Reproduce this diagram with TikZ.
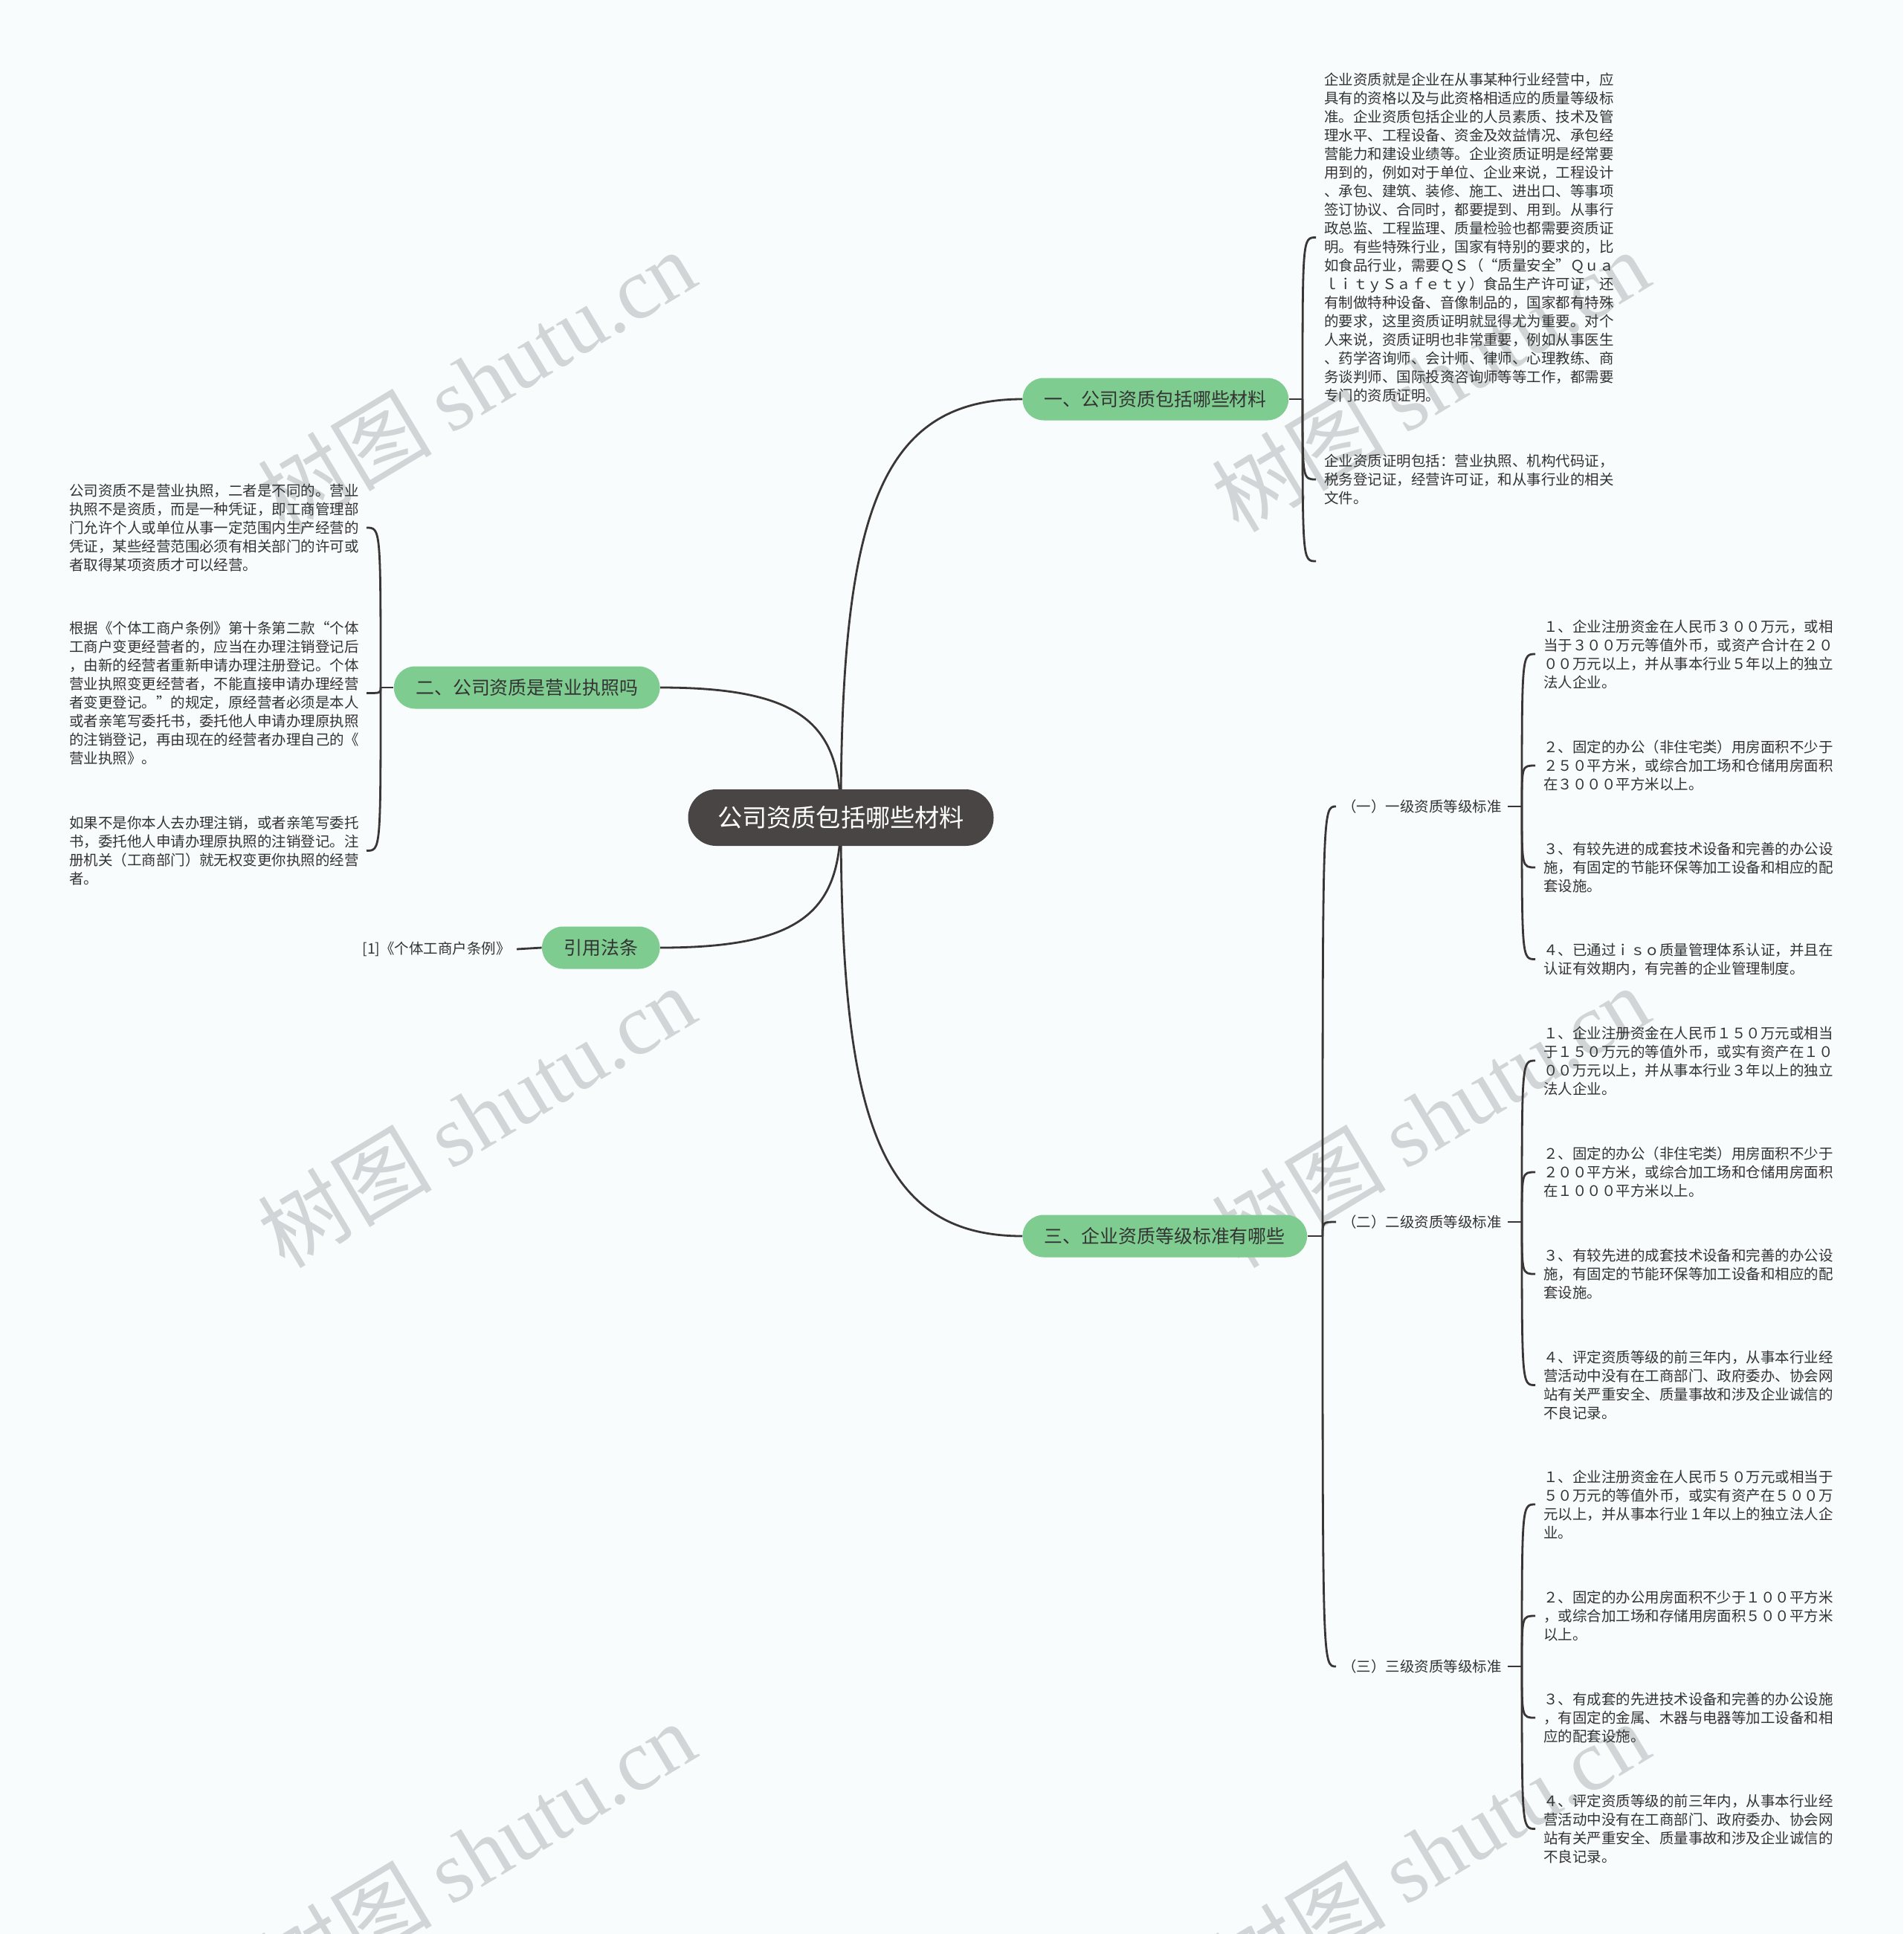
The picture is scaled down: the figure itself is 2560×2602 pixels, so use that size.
\documentclass[tikz,border=0pt]{standalone}
\usepackage{fontspec}
\setmainfont{Noto Sans CJK SC}
\newfontfamily\wmserif{Liberation Serif}
\pgfdeclarelayer{wm}
\pgfdeclarelayer{bg}
\pgfsetlayers{wm,bg,main}
\definecolor{bgc}{HTML}{F8FCFD}
\definecolor{grn}{HTML}{7FCC90}
\definecolor{darkroot}{HTML}{4A4545}
\definecolor{linec}{HTML}{3A3636}
\definecolor{txt}{HTML}{333333}
\definecolor{wmc}{HTML}{D1D5D7}
\tikzset{
  rootnode/.style={fill=darkroot, text=white, rounded corners=18.9pt, minimum width=205.5pt, minimum height=38pt, inner sep=0pt, font=\fontsize{16.6}{20}\selectfont},
  branch/.style={fill=grn, text=txt, rounded corners=14.2pt, minimum height=28.5pt, inner xsep=14.75pt, inner ysep=0pt, font=\fontsize{12.45}{15}\selectfont},
  para/.style={align=left, text=txt, inner ysep=0pt, font=\fontsize{9.73}{12.5}\selectfont},
  rpara/.style={para, anchor=west, inner xsep=5.5pt},
  lpara/.style={para, anchor=east, inner xsep=5pt},
  lbl/.style={text=txt, anchor=west, inner xsep=4pt, inner ysep=2pt, font=\fontsize{9.73}{12.5}\selectfont},
  link/.style={draw=linec, line width=1.4pt},
  wmark/.style={rotate=31, anchor=base, text=wmc, inner sep=0pt, font=\fontsize{58.5}{58.5}\selectfont}
}
\begin{document}
\begin{tikzpicture}[x=0.5pt,y=-0.5pt]
\useasboundingbox (0,0) rectangle (2560,2602);
\begin{pgfonlayer}{wm}
\fill[bgc] (0,0) rectangle (2560,2602);
\begin{scope}
\clip (0,0) rectangle (2560,2602);
\foreach \wx/\wy/\wn in {664/550/1,1947/550/2,664/1540/3,1947/1540/4,664/2530/5,1947/2530/6}
  \node[wmark] (wm\wn) at (\wx,\wy) {树图 {\wmserif shutu.cn}};
\end{scope}
\end{pgfonlayer}

% root and branches
\node[rootnode] (root) at (1131,1100) {公司资质包括哪些材料};
\node[branch, anchor=west] (b1) at (1375,537) {一、公司资质包括哪些材料};
\node[branch, anchor=west] (b3) at (1375,1663) {三、企业资质等级标准有哪些};
\node[branch, anchor=east] (b2) at (888,925) {二、公司资质是营业执照吗};
\node[branch, anchor=east] (b4) at (888,1275) {引用法条};

% branch 1 children
\node[rpara] (t11) at (1770,319.5) {企业资质就是企业在从事某种行业经营中，应\\
具有的资格以及与此资格相适应的质量等级标\\
准。企业资质包括企业的人员素质、技术及管\\
理水平、工程设备、资金及效益情况、承包经\\
营能力和建设业绩等。企业资质证明是经常要\\
用到的，例如对于单位、企业来说，工程设计\\
、承包、建筑、装修、施工、进出口、等事项\\
签订协议、合同时，都要提到、用到。从事行\\
政总监、工程监理、质量检验也都需要资质证\\
明。有些特殊行业，国家有特别的要求的，比\\
如食品行业，需要ＱＳ（“质量安全”Ｑｕａ\\
ｌｉｔｙＳａｆｅｔｙ）食品生产许可证，还\\
有制做特种设备、音像制品的，国家都有特殊\\
的要求，这里资质证明就显得尤为重要。对个\\
人来说，资质证明也非常重要，例如从事医生\\
、药学咨询师、会计师、律师、心理教练、商\\
务谈判师、国际投资咨询师等等工作，都需要\\
专门的资质证明。};
\node[rpara] (t12) at (1770,645) {企业资质证明包括：营业执照、机构代码证，\\
税务登记证，经营许可证，和从事行业的相关\\
文件。};
\coordinate (t13) at (1770,755);
\coordinate (j1) at (1752,537);

% branch 2 children
\node[lpara] (t21) at (493,710) {公司资质不是营业执照，二者是不同的。营业\\
执照不是资质，而是一种凭证，即工商管理部\\
门允许个人或单位从事一定范围内生产经营的\\
凭证，某些经营范围必须有相关部门的许可或\\
者取得某项资质才可以经营。};
\node[lpara] (t22) at (493,932.5) {根据《个体工商户条例》第十条第二款“个体\\
工商户变更经营者的，应当在办理注销登记后\\
，由新的经营者重新申请办理注册登记。个体\\
营业执照变更经营者，不能直接申请办理经营\\
者变更登记。”的规定，原经营者必须是本人\\
或者亲笔写委托书，委托他人申请办理原执照\\
的注销登记，再由现在的经营者办理自己的《\\
营业执照》。};
\node[lpara] (t23) at (493,1144.5) {如果不是你本人去办理注销，或者亲笔写委托\\
书，委托他人申请办理原执照的注销登记。注\\
册机关（工商部门）就无权变更你执照的经营\\
者。};
\coordinate (j2) at (512,925);

% branch 4 child
\node[para, anchor=east, inner xsep=4pt] (ref) at (695,1277) {[1]《个体工商户条例》};

% branch 3 children
\coordinate (j3) at (1779,1663);
\node[lbl] (g1) at (1797,1085) {（一）一级资质等级标准};
\node[lbl] (g2) at (1797,1644) {（二）二级资质等级标准};
\node[lbl] (g3) at (1797,2242) {（三）三级资质等级标准};
\coordinate (jg1) at (2047,1085);
\coordinate (jg2) at (2047,1644);
\coordinate (jg3) at (2047,2242);

\node[rpara] (g1a) at (2065,880) {１、企业注册资金在人民币３００万元，或相\\
当于３００万元等值外币，或资产合计在２０\\
００万元以上，并从事本行业５年以上的独立\\
法人企业。};
\node[rpara] (g1b) at (2065,1030) {２、固定的办公（非住宅类）用房面积不少于\\
２５０平方米，或综合加工场和仓储用房面积\\
在３０００平方米以上。};
\node[rpara] (g1c) at (2065,1167) {３、有较先进的成套技术设备和完善的办公设\\
施，有固定的节能环保等加工设备和相应的配\\
套设施。};
\node[rpara] (g1d) at (2065,1290.5) {４、已通过ｉｓｏ质量管理体系认证，并且在\\
认证有效期内，有完善的企业管理制度。};

\node[rpara] (g2a) at (2065,1427) {１、企业注册资金在人民币１５０万元或相当\\
于１５０万元的等值外币，或实有资产在１０\\
００万元以上，并从事本行业３年以上的独立\\
法人企业。};
\node[rpara] (g2b) at (2065,1577) {２、固定的办公（非住宅类）用房面积不少于\\
２００平方米，或综合加工场和仓储用房面积\\
在１０００平方米以上。};
\node[rpara] (g2c) at (2065,1714) {３、有较先进的成套技术设备和完善的办公设\\
施，有固定的节能环保等加工设备和相应的配\\
套设施。};
\node[rpara] (g2d) at (2065,1863.5) {４、评定资质等级的前三年内，从事本行业经\\
营活动中没有在工商部门、政府委办、协会网\\
站有关严重安全、质量事故和涉及企业诚信的\\
不良记录。};

\node[rpara] (g3a) at (2065,2024) {１、企业注册资金在人民币５０万元或相当于\\
５０万元的等值外币，或实有资产在５００万\\
元以上，并从事本行业１年以上的独立法人企\\
业。};
\node[rpara] (g3b) at (2065,2174) {２、固定的办公用房面积不少于１００平方米\\
，或综合加工场和存储用房面积５００平方米\\
以上。};
\node[rpara] (g3c) at (2065,2311) {３、有成套的先进技术设备和完善的办公设施\\
，有固定的金属、木器与电器等加工设备和相\\
应的配套设施。};
\node[rpara] (g3d) at (2065,2460.5) {４、评定资质等级的前三年内，从事本行业经\\
营活动中没有在工商部门、政府委办、协会网\\
站有关严重安全、质量事故和涉及企业诚信的\\
不良记录。};

\begin{pgfonlayer}{bg}
% root to branches
\draw[link] (root.center) .. controls (1131,700) and (1180,537) .. (b1.west);
\draw[link] (root.center) .. controls (1131,1500) and (1180,1663) .. (b3.west);
\draw[link] (root.center) .. controls (1131,976) and (1082,925) .. (b2.east);
\draw[link] (root.center) .. controls (1131,1224) and (1082,1275) .. (b4.east);
% branch 1
\draw[link] (b1.east) -- (j1);
\draw[link] (j1) .. controls (1752,319.5) and (1752,319.5) .. (t11.west);
\draw[link] (j1) .. controls (1752,645) and (1752,645) .. (t12.west);
\draw[link] (j1) .. controls (1752,755) and (1752,755) .. (t13);
% branch 2
\draw[link] (b2.west) -- (j2);
\draw[link] (j2) .. controls (512,710) and (512,710) .. (t21.east);
\draw[link] (j2) .. controls (512,932.5) and (512,932.5) .. (t22.east);
\draw[link] (j2) .. controls (512,1144.5) and (512,1144.5) .. (t23.east);
% branch 4
\draw[link] (b4.west) -- (ref.east);
% branch 3
\draw[link] (b3.east) -- (j3);
\draw[link] (j3) .. controls (1779,1085) and (1779,1085) .. (g1.west);
\draw[link] (j3) .. controls (1779,1644) and (1779,1644) .. (g2.west);
\draw[link] (j3) .. controls (1779,2242) and (1779,2242) .. (g3.west);
\draw[link] (g1.east) -- (jg1);
\draw[link] (g2.east) -- (jg2);
\draw[link] (g3.east) -- (jg3);
\foreach \g/\j/\ya/\yb/\yc/\yd in {g1/jg1/880/1030/1167/1290.5, g2/jg2/1427/1577/1714/1863.5, g3/jg3/2024/2174/2311/2460.5}{
  \draw[link] (\j) .. controls (2047,\ya) and (2047,\ya) .. (\g a.west);
  \draw[link] (\j) .. controls (2047,\yb) and (2047,\yb) .. (\g b.west);
  \draw[link] (\j) .. controls (2047,\yc) and (2047,\yc) .. (\g c.west);
  \draw[link] (\j) .. controls (2047,\yd) and (2047,\yd) .. (\g d.west);
}
\end{pgfonlayer}
\end{tikzpicture}
\end{document}
